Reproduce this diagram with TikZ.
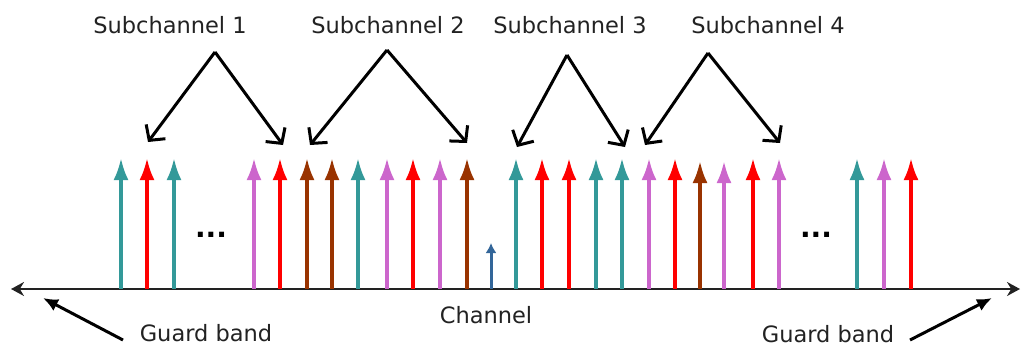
\documentclass[tikz,border=0pt]{standalone}
\usepackage{fontspec}
\setmainfont{DejaVu Sans}
\usetikzlibrary{arrows.meta}
\definecolor{tealc}{HTML}{339999}
\definecolor{redc}{HTML}{FF0000}
\definecolor{violetc}{HTML}{CC66CC}
\definecolor{brownc}{HTML}{993300}
\definecolor{bluec}{HTML}{336699}
\definecolor{inkc}{HTML}{222222}
\tikzset{
  lbl/.style={inner sep=0pt, text=inkc, font=\fontsize{22.5}{26}\selectfont},
  dotsl/.style={inner sep=0pt, text=black, font=\fontsize{28}{30}\selectfont\bfseries},
  stem/.style={line width=3.5pt, -{Latex[length=22pt,width=15pt]}},
  shortstem/.style={line width=3pt, -{Latex[length=10pt,width=11pt]}},
  pointer/.style={line width=3pt, black, -{Straight Barb[length=11pt,width=24pt,line width=3pt]}},
  axisline/.style={line width=2pt, inkc, {Stealth[length=13pt,width=14pt]}-{Stealth[length=13pt,width=14pt]}},
}
\begin{document}
\begin{tikzpicture}[x=1pt,y=-1pt]
\useasboundingbox (0,0) rectangle (1022,349);

% frequency axis
\coordinate (axL) at (11,289);
\coordinate (axR) at (1020,289);
\draw[axisline] (axL) -- (axR);

% subcarriers
\foreach \x/\c [count=\i] in {121/tealc,147/redc,174/tealc,254/violetc,280/redc,307/brownc,
    332/brownc,358/tealc,387/violetc,413/redc,440/violetc,467/brownc,516/tealc,542/redc,
    569/redc,596/tealc,622/tealc,649/violetc,675/redc,753/redc,779/violetc,857/tealc,
    884/violetc,911/redc}{
  \coordinate (b\i) at (\x,289);
  \coordinate (t\i) at (\x,158);
  \draw[stem,\c] (b\i) -- (t\i);
}
\coordinate (bA) at (700,289); \coordinate (tA) at (700,161);
\draw[stem,brownc] (bA) -- (tA);
\coordinate (bB) at (724,289); \coordinate (tB) at (724,161);
\draw[stem,violetc] (bB) -- (tB);

% DC subcarrier
\coordinate (bDC) at (491,289); \coordinate (tDC) at (491,243);
\draw[shortstem,bluec] (bDC) -- (tDC);

% ellipses
\node[dotsl] (dl) at (211,235) {...};
\node[dotsl] (dr) at (816,235) {...};

% subchannel labels and pointers
\node[lbl] (s1) at (170,25) {Subchannel 1};
\node[lbl] (s2) at (388,25) {Subchannel 2};
\node[lbl] (s3) at (570,25) {Subchannel 3};
\node[lbl] (s4) at (768,25) {Subchannel 4};

\coordinate (a1) at (215,52);
\coordinate (a2) at (387,50);
\coordinate (a3) at (567,55);
\coordinate (a4) at (708,53);

\coordinate (p1l) at (148,142); \coordinate (p1r) at (283,145);
\coordinate (p2l) at (310,145); \coordinate (p2r) at (467,143);
\coordinate (p3l) at (517,147); \coordinate (p3r) at (625,147);
\coordinate (p4l) at (645,145); \coordinate (p4r) at (780,143);

\draw[pointer] (a1) -- (p1l);
\draw[pointer] (a1) -- (p1r);
\draw[pointer] (a2) -- (p2l);
\draw[pointer] (a2) -- (p2r);
\draw[pointer] (a3) -- (p3l);
\draw[pointer] (a3) -- (p3r);
\draw[pointer] (a4) -- (p4l);
\draw[pointer] (a4) -- (p4r);

% bottom labels
\node[lbl] (ch) at (486,315) {Channel};
\node[lbl] (gl) at (206,333) {Guard band};
\node[lbl] (gr) at (828,334) {Guard band};

\coordinate (glS) at (123,340); \coordinate (glE) at (43,298);
\coordinate (grS) at (910,340); \coordinate (grE) at (992,298);
\draw[pointer, -{Latex[length=15pt,width=13pt]}] (glS) -- (glE);
\draw[pointer, -{Latex[length=15pt,width=13pt]}] (grS) -- (grE);
\end{tikzpicture}
\end{document}
